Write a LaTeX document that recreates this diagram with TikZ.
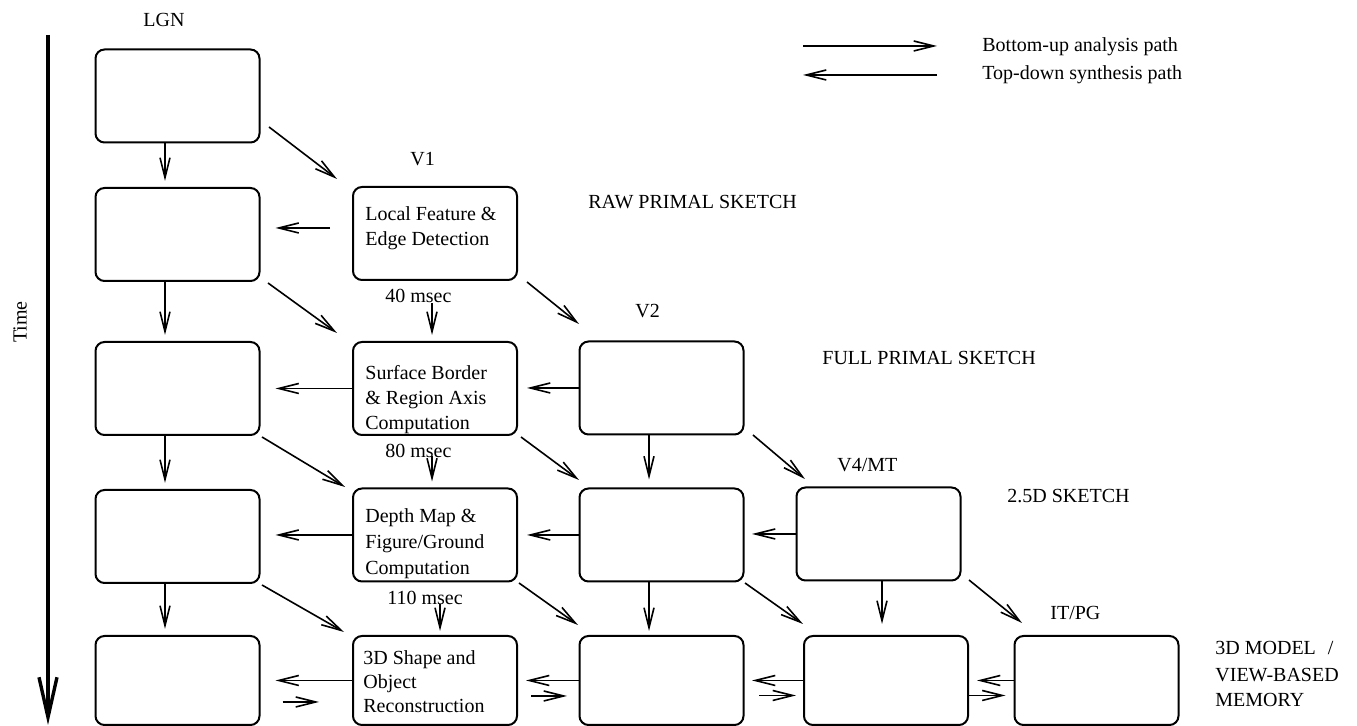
\documentclass[tikz,border=0pt]{standalone}
\usepackage{fontspec}
\setmainfont{Liberation Serif}
\usetikzlibrary{arrows.meta}
\tikzset{
  box/.style={draw, line width=1pt, rounded corners=4.5pt, minimum width=82pt, minimum height=46.5pt, inner sep=0pt},
  lastbox/.style={box, minimum height=44.5pt},
  arr/.style={line width=0.8pt, -{Straight Barb[length=10pt,width=5pt]}},
  timearr/.style={line width=1.7pt, -{Straight Barb[length=20pt,width=9pt]}},
  lbl/.style={anchor=base west, inner sep=0pt, font=\fontsize{10}{13}\selectfont},
  boxtxt/.style={anchor=north west, inner sep=0pt, align=left, font=\fontsize{10}{12.5}\selectfont},
}
\begin{document}
\begin{tikzpicture}[x=0.5pt,y=-0.5pt]
\useasboundingbox (0,0) rectangle (1357,726);
% boxes
\node[box] (a1) at (177.5,96) {};
\node[box] (a2) at (177.5,234.5) {};
\node[box] (a3) at (177.5,388.5) {};
\node[box] (a4) at (177.5,536.5) {};
\node[lastbox] (a5) at (177.5,680.5) {};
\node[box] (b2) at (435,233.5) {};
\node[box] (b3) at (435,388.5) {};
\node[box] (b4) at (435,535) {};
\node[lastbox] (b5) at (435,680.5) {};
\node[box] (c3) at (661.5,388) {};
\node[box] (c4) at (661.5,535) {};
\node[lastbox] (c5) at (661.5,680.5) {};
\node[box] (d4) at (878.5,534) {};
\node[lastbox] (d5) at (886,680.5) {};
\node[lastbox] (e5) at (1096.5,680.5) {};
% box texts
\node[boxtxt] (tb2) at (365,206) {Local Feature \&\\Edge Detection};
\node[boxtxt] (tb3) at (365,365) {Surface Border\\\& Region Axis\\Computation};
\node[boxtxt, font=\fontsize{10}{13}\selectfont] (tb4) at (365,508) {Depth Map \&\\Figure/Ground\\Computation};
\node[boxtxt, font=\fontsize{10}{12}\selectfont] (tb5) at (363,650) {3D Shape and\\Object\\Reconstruction};
% labels
\node[lbl] (lgn) at (143,27) {LGN};
\node[lbl] (v1) at (410,166) {V1};
\node[lbl] (v2) at (635,318) {V2};
\node[lbl] (v4) at (837,472) {V4/MT};
\node[lbl] (it) at (1050,620) {IT/PG};
\node[lbl] (raw) at (588,209) {RAW PRIMAL SKETCH};
\node[lbl] (full) at (822,365) {FULL PRIMAL SKETCH};
\node[lbl] (sk25) at (1007,503) {2.5D SKETCH};
\node[lbl] (m1) at (1215,655) {3D MODEL\hspace{6pt}/};
\node[lbl] (m2) at (1215,682) {VIEW-BASED};
\node[lbl] (m3) at (1215,707) {MEMORY};
\node[lbl] (t40) at (385,303) {40 msec};
\node[lbl] (t80) at (385,458) {80 msec};
\node[lbl] (t110) at (387,605) {110 msec};
\node[lbl] (lg1) at (982,52) {Bottom-up analysis path};
\node[lbl] (lg2) at (982,80) {Top-down synthesis path};
\node[rotate=90, inner sep=0pt] (time) at (20,322) {Time};
% time axis
\coordinate (ts) at (48,35);
\coordinate (te) at (48,725);
\draw[timearr] (ts) -- (te);
% legend arrows
\coordinate (l1s) at (803,46);
\coordinate (l1e) at (937,46);
\coordinate (l2s) at (937,75);
\coordinate (l2e) at (803,75);
\draw[arr] (l1s) -- (l1e);
\draw[arr] (l2s) -- (l2e);
% column x positions for vertical arrows
\coordinate (ax) at (165,0);
\coordinate (bx) at (432,0);
\coordinate (bxx) at (440,0);
\coordinate (cx) at (649,0);
\coordinate (dx) at (882,0);
% vertical arrows
\draw[arr, shorten >=3pt] (a1.south -| ax) -- (a2.north -| ax);
\draw[arr, shorten >=3pt] (a2.south -| ax) -- (a3.north -| ax);
\draw[arr, shorten >=3pt] (a3.south -| ax) -- (a4.north -| ax);
\draw[arr, shorten >=3pt] (a4.south -| ax) -- (a5.north -| ax);
\draw[arr, shorten <=11pt, shorten >=3pt] (b2.south -| bx) -- (b3.north -| bx);
\draw[arr, shorten <=10pt, shorten >=3pt] (b3.south -| bx) -- (b4.north -| bx);
\draw[arr, shorten <=11pt, shorten >=2pt] (b4.south -| bxx) -- (b5.north -| bxx);
\draw[arr, shorten >=4pt] (c3.south -| cx) -- (c4.north -| cx);
\draw[arr, shorten >=2pt] (c4.south -| cx) -- (c5.north -| cx);
\draw[arr, shorten >=5.5pt] (d4.south -| dx) -- (d5.north -| dx);
% horizontal top-down arrows
\draw[arr] ([shift={(-22,-5.5)}]b2.west) -- ([shift={(15,-6.5)}]a2.east);
\draw[arr, shorten >=7.5pt] (b3.west) -- (b3.west -| a3.east);
\draw[arr, shorten >=4.5pt] (c3.west) -- (c3.west -| b3.east);
\draw[arr, shorten >=7.5pt] (b4.west) -- (b4.west -| a4.east);
\draw[arr, shorten >=4.5pt] (c4.west) -- (c4.west -| b4.east);
\draw[arr, shorten >=3.75pt] (d4.west) -- (d4.west -| c4.east);
\draw[arr, shorten >=7.5pt] (b5.west) -- (b5.west -| a5.east);
\draw[arr, shorten >=4pt] (c5.west) -- (c5.west -| b5.east);
\draw[arr, shorten >=3.75pt] (d5.west) -- (d5.west -| c5.east);
\draw[arr, shorten >=4pt] (e5.west) -- (e5.west -| d5.east);
% bottom row bottom-up arrows
\draw[arr] ([shift={(22,21.5)}]a5.east) -- ([shift={(-33,21.5)}]b5.west);
\draw[arr] ([shift={(13,15.5)}]b5.east) -- ([shift={(-11.5,15.5)}]c5.west);
\draw[arr] ([shift={(14.5,15)}]c5.east) -- ([shift={(-7,15)}]d5.west);
\draw[arr] ([shift={(0,15)}]d5.east) -- ([shift={(-8,15)}]e5.west);
% diagonal bottom-up arrows
\draw[arr] ([shift={(8.5,-16.5)}]a1.south east) -- ([shift={(-15,-7)}]b2.north west);
\draw[arr] ([shift={(7.5,1)}]a2.south east) -- ([shift={(-15,-8)}]b3.north west);
\draw[arr] ([shift={(1.5,1)}]a3.south east) -- ([shift={(-7,-0.5)}]b4.north west);
\draw[arr] ([shift={(1.5,1)}]a4.south east) -- ([shift={(-8,-3)}]b5.north west);
\draw[arr] ([shift={(9,1)}]b2.south east) -- ([shift={(0.5,-16.5)}]c3.north west);
\draw[arr] ([shift={(3,1)}]b3.south east) -- ([shift={(0.5,-7.5)}]c4.north west);
\draw[arr] ([shift={(1,0.5)}]b4.south east) -- ([shift={(-0.5,-10)}]c5.north west);
\draw[arr] ([shift={(8.5,-0.5)}]c3.south east) -- ([shift={(9.5,-7.5)}]d4.north west);
\draw[arr] ([shift={(0.5,0.5)}]c4.south east) -- ([shift={(0,-11)}]d5.north west);
\draw[arr] ([shift={(7.5,-1.5)}]d4.south east) -- ([shift={(8.5,-12)}]e5.north west);
\end{tikzpicture}
\end{document}
